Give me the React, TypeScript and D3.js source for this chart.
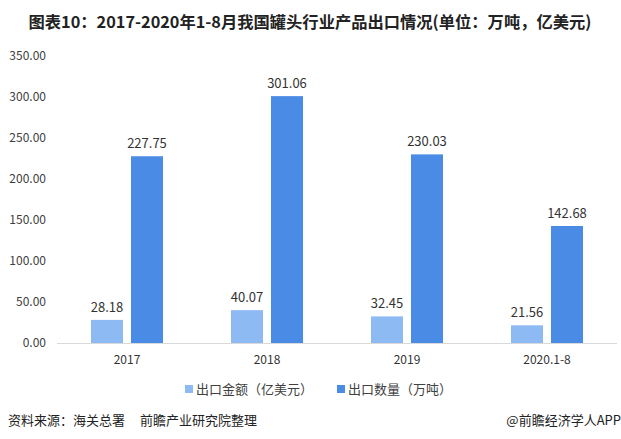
import React from "react";
import * as d3 from "d3";

const categories = ["2017", "2018", "2019", "2020.1-8"];
const exportValue = [28.18, 40.07, 32.45, 21.56];
const exportVolume = [227.75, 301.06, 230.03, 142.68];
const yTicks = [0, 50, 100, 150, 200, 250, 300, 350];
const seriesNames = ["出口金额（亿美元）", "出口数量（万吨）"];
const title = "图表10：2017-2020年1-8月我国罐头行业产品出口情况(单位：万吨，亿美元)";
const sourceA = "资料来源：海关总署";
const sourceB = "前瞻产业研究院整理";
const credit = "@前瞻经济学人APP";

const W = 621;
const H = 439;
const colors = ["#8EBAF3", "#4A8BE5"];
const font = "'Noto Sans CJK SC', 'Noto Sans', sans-serif";

export default function App() {
  const x = d3.scaleBand<string>().domain(categories).range([57, 617]).paddingInner(0).paddingOuter(0);
  const y = d3.scaleLinear().domain([0, 350]).range([343, 56]);
  const barW = 32;
  const gap = 8;
  const series = [exportValue, exportVolume];

  return (
    <svg width={W} height={H} style={{ position: "absolute", left: 0, top: 0, background: "#fff" }}>
      <rect width={W} height={H} fill="#fff" />
      <text x={310} y={28} textAnchor="middle" fontFamily={font} fontWeight="bold" fontSize={16.3} fill="#222">
        {title}
      </text>
      {yTicks.map((t) => (
        <text key={t} x={46} y={y(t) + 4} textAnchor="end" fontFamily={font} fontSize={12} fill="#404040">
          {t.toFixed(2)}
        </text>
      ))}
      <line x1={57} x2={617} y1={y(0) + 0.5} y2={y(0) + 0.5} stroke="#d9d9d9" strokeWidth={1} />
      {categories.map((c, i) => {
        const cx = (x(c) as number) + x.bandwidth() / 2;
        return (
          <g key={c}>
            {series.map((s, j) => {
              const bx = j === 0 ? cx - gap / 2 - barW : cx + gap / 2;
              const v = s[i];
              return (
                <g key={j}>
                  <rect x={bx} y={y(v)} width={barW} height={y(0) - y(v)} fill={colors[j]} />
                  <text x={bx + barW / 2} y={y(v) - 8} textAnchor="middle" fontFamily={font} fontSize={13} fill="#333">
                    {v.toFixed(2)}
                  </text>
                </g>
              );
            })}
            <text x={cx} y={364} textAnchor="middle" fontFamily={font} fontSize={12} fill="#333">
              {c}
            </text>
          </g>
        );
      })}
      <rect x={185} y={385} width={8} height={8} fill={colors[0]} />
      <text x={196} y={393.5} fontFamily={font} fontSize={13} fill="#404040">{seriesNames[0]}</text>
      <rect x={337} y={385} width={8} height={8} fill={colors[1]} />
      <text x={348} y={393.5} fontFamily={font} fontSize={13} fill="#404040">{seriesNames[1]}</text>
      <text x={8} y={425} fontFamily={font} fontSize={13} fill="#222">{sourceA}</text>
      <text x={140} y={425} fontFamily={font} fontSize={13} fill="#222">{sourceB}</text>
      <text x={621} y={425} textAnchor="end" fontFamily={font} fontSize={13} fill="#222">{credit}</text>
    </svg>
  );
}
